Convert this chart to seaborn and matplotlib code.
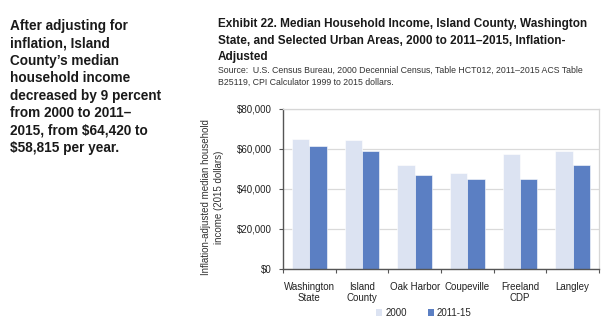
import matplotlib
matplotlib.use("Agg")
import matplotlib.pyplot as plt
import seaborn as sns
import pandas as pd
from matplotlib.ticker import FuncFormatter, FixedLocator
from matplotlib.patches import Patch

places = ["Washington\nState", "Island\nCounty", "Oak Harbor", "Coupeville", "Freeland\nCDP", "Langley"]
income_2000 = [64800, 64420, 51800, 48100, 57600, 59000]
income_2011_15 = [61300, 58815, 46800, 44800, 44800, 51800]
periods = ["2000", "2011-15"]
palette = {"2000": "#DCE3F2", "2011-15": "#5B7FC3"}

df = pd.DataFrame({
    "place": places * 2,
    "period": [periods[0]] * len(places) + [periods[1]] * len(places),
    "income": income_2000 + income_2011_15,
})

sns.set_theme(style="white")
plt.rcParams["font.family"] = ["Liberation Sans", "DejaVu Sans"]

fig = plt.figure(figsize=(6.16, 3.28), dpi=100)
ax = fig.add_axes([283 / 616, 1 - 269 / 328, 316 / 616, 160 / 328])

sns.barplot(data=df, x="place", y="income", hue="period", palette=palette,
            order=places, hue_order=periods, width=0.66, gap=0, saturation=1,
            edgecolor="white", linewidth=0.4, legend=False, ax=ax)

ax.set_ylim(0, 80000)
ax.set_xlim(-0.5, len(places) - 0.5)
ax.yaxis.set_major_locator(FixedLocator([0, 20000, 40000, 60000, 80000]))
ax.yaxis.set_major_formatter(FuncFormatter(lambda v, p: f"${v:,.0f}"))
ax.grid(axis="y", color="#DADADA", linewidth=0.9)
ax.set_axisbelow(True)

ax.set_xlabel("")
ax.set_ylabel("Inflation-adjusted median household\nincome (2015 dollars)",
              fontsize=7, color="#333333", labelpad=9, linespacing=1.4)
ax.yaxis.label.set_y(0.45)
ax.tick_params(axis="x", which="major", length=0, labelsize=7, labelcolor="#222222", pad=9)
ax.set_xticks([i - 0.5 for i in range(len(places) + 1)], minor=True)
ax.tick_params(axis="x", which="minor", length=3, width=0.8, color="#555555", direction="out", bottom=True)
ax.tick_params(axis="y", which="major", length=3, width=0.8, color="#555555", labelsize=7,
               labelcolor="#222222", pad=5, left=True)

for s in ["left", "bottom"]:
    ax.spines[s].set_color("#555555")
    ax.spines[s].set_linewidth(1.0)
for s in ["top", "right"]:
    ax.spines[s].set_color("#D6D6D6")
    ax.spines[s].set_linewidth(0.9)

handles = [Patch(facecolor=palette[p], edgecolor="none", label=p) for p in periods]
fig.legend(handles=handles, loc="center", bbox_to_anchor=(424 / 616, 1 - 313 / 328),
           ncol=2, frameon=False, fontsize=7, handlelength=0.6, handleheight=0.6,
           handletextpad=0.3, columnspacing=2.2)

fig.text(10 / 616, 1 - 19 / 328,
         "After adjusting for\ninflation, Island\nCounty’s median\nhousehold income\n"
         "decreased by 9 percent\nfrom 2000 to 2011–\n2015, from $64,420 to\n$58,815 per year.",
         ha="left", va="top", fontsize=9.8, fontweight="bold", color="#1a1a1a", linespacing=1.31)

fig.text(218 / 616, 1 - 18 / 328,
         "Exhibit 22. Median Household Income, Island County, Washington\n"
         "State, and Selected Urban Areas, 2000 to 2011–2015, Inflation-\nAdjusted",
         ha="left", va="top", fontsize=8.5, fontweight="bold", color="#1a1a1a", linespacing=1.5)
fig.text(218 / 616, 1 - 66 / 328,
         "Source:  U.S. Census Bureau, 2000 Decennial Census, Table HCT012, 2011–2015 ACS Table\n"
         "B25119, CPI Calculator 1999 to 2015 dollars.",
         ha="left", va="top", fontsize=6.3, color="#333333", linespacing=1.4)

fig.savefig("out.png", dpi=100)
